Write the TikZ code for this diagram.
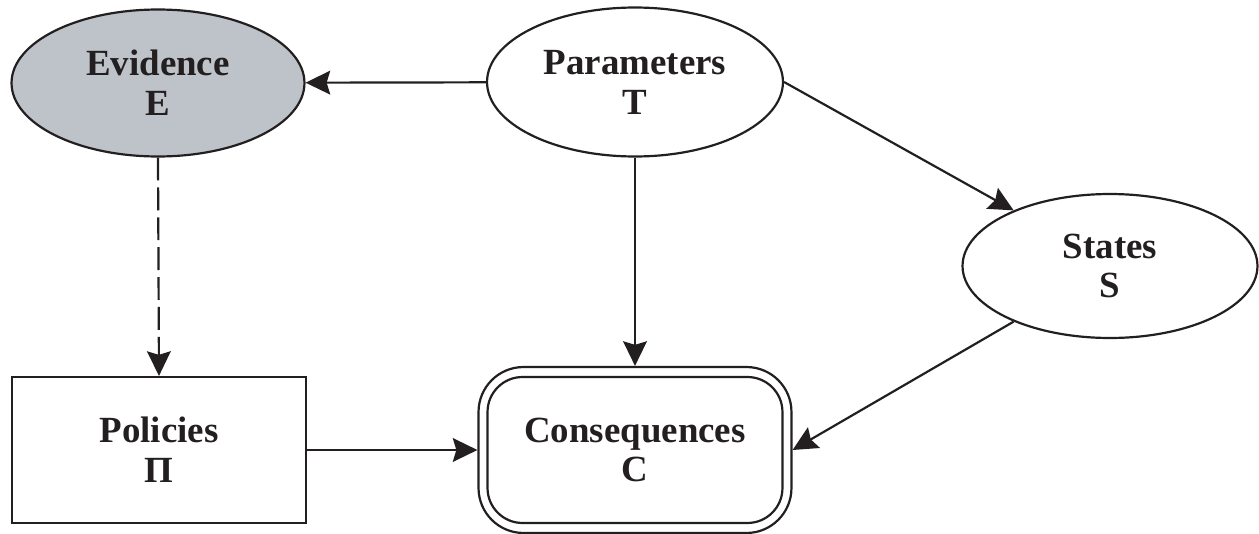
\documentclass[tikz,border=0pt]{standalone}
\usepackage{fontspec}
\setmainfont{Liberation Serif}
\usetikzlibrary{arrows.meta,shapes.geometric}
\definecolor{evfill}{RGB}{190,195,201}
\definecolor{ink}{RGB}{35,31,32}
\begin{document}
\begin{tikzpicture}[x=0.02cm,y=-0.02cm,
  every node/.style={font=\bfseries\fontsize{21}{22.7}\selectfont, text=ink, align=center, inner sep=0pt},
  ell/.style={ellipse, draw=ink, line width=1.25pt},
  box/.style={rectangle, draw=ink, line width=1.25pt},
  link/.style={draw=ink, line width=1.25pt, -{Stealth[length=14pt,width=13.5pt,inset=2pt]}},
  dlink/.style={link, dash pattern=on 13pt off 4pt}]
\useasboundingbox (0,0) rectangle (1259,534);
\node[ell, fill=evfill, minimum width=5.86cm, minimum height=2.94cm] (E) at (158,83) {Evidence\\E};
\node[ell, minimum width=5.92cm, minimum height=2.98cm] (T) at (635,82) {Parameters\\T};
\node[ell, minimum width=5.9cm, minimum height=2.88cm] (S) at (1110,266) {States\\S};
\node[box, minimum width=5.88cm, minimum height=2.92cm] (P) at (159,450) {Policies\\Π};
\node[box, rounded corners=0.9cm, minimum width=6.26cm, minimum height=3.32cm] (C) at (635,450) {};
\node[box, rounded corners=0.7cm, minimum width=5.9cm, minimum height=2.92cm] (Ci) at (635,450) {Consequences\\C};
\draw[link] (T) -- (E);
\draw[link] (T.south) -- (C.north);
\draw[link] (T.east) -- (S.150);
\draw[link] (S.210) -- (C.east);
\draw[link] (P.east) -- (C.west);
\draw[dlink] (E.south) -- (P.north);
\end{tikzpicture}
\end{document}
